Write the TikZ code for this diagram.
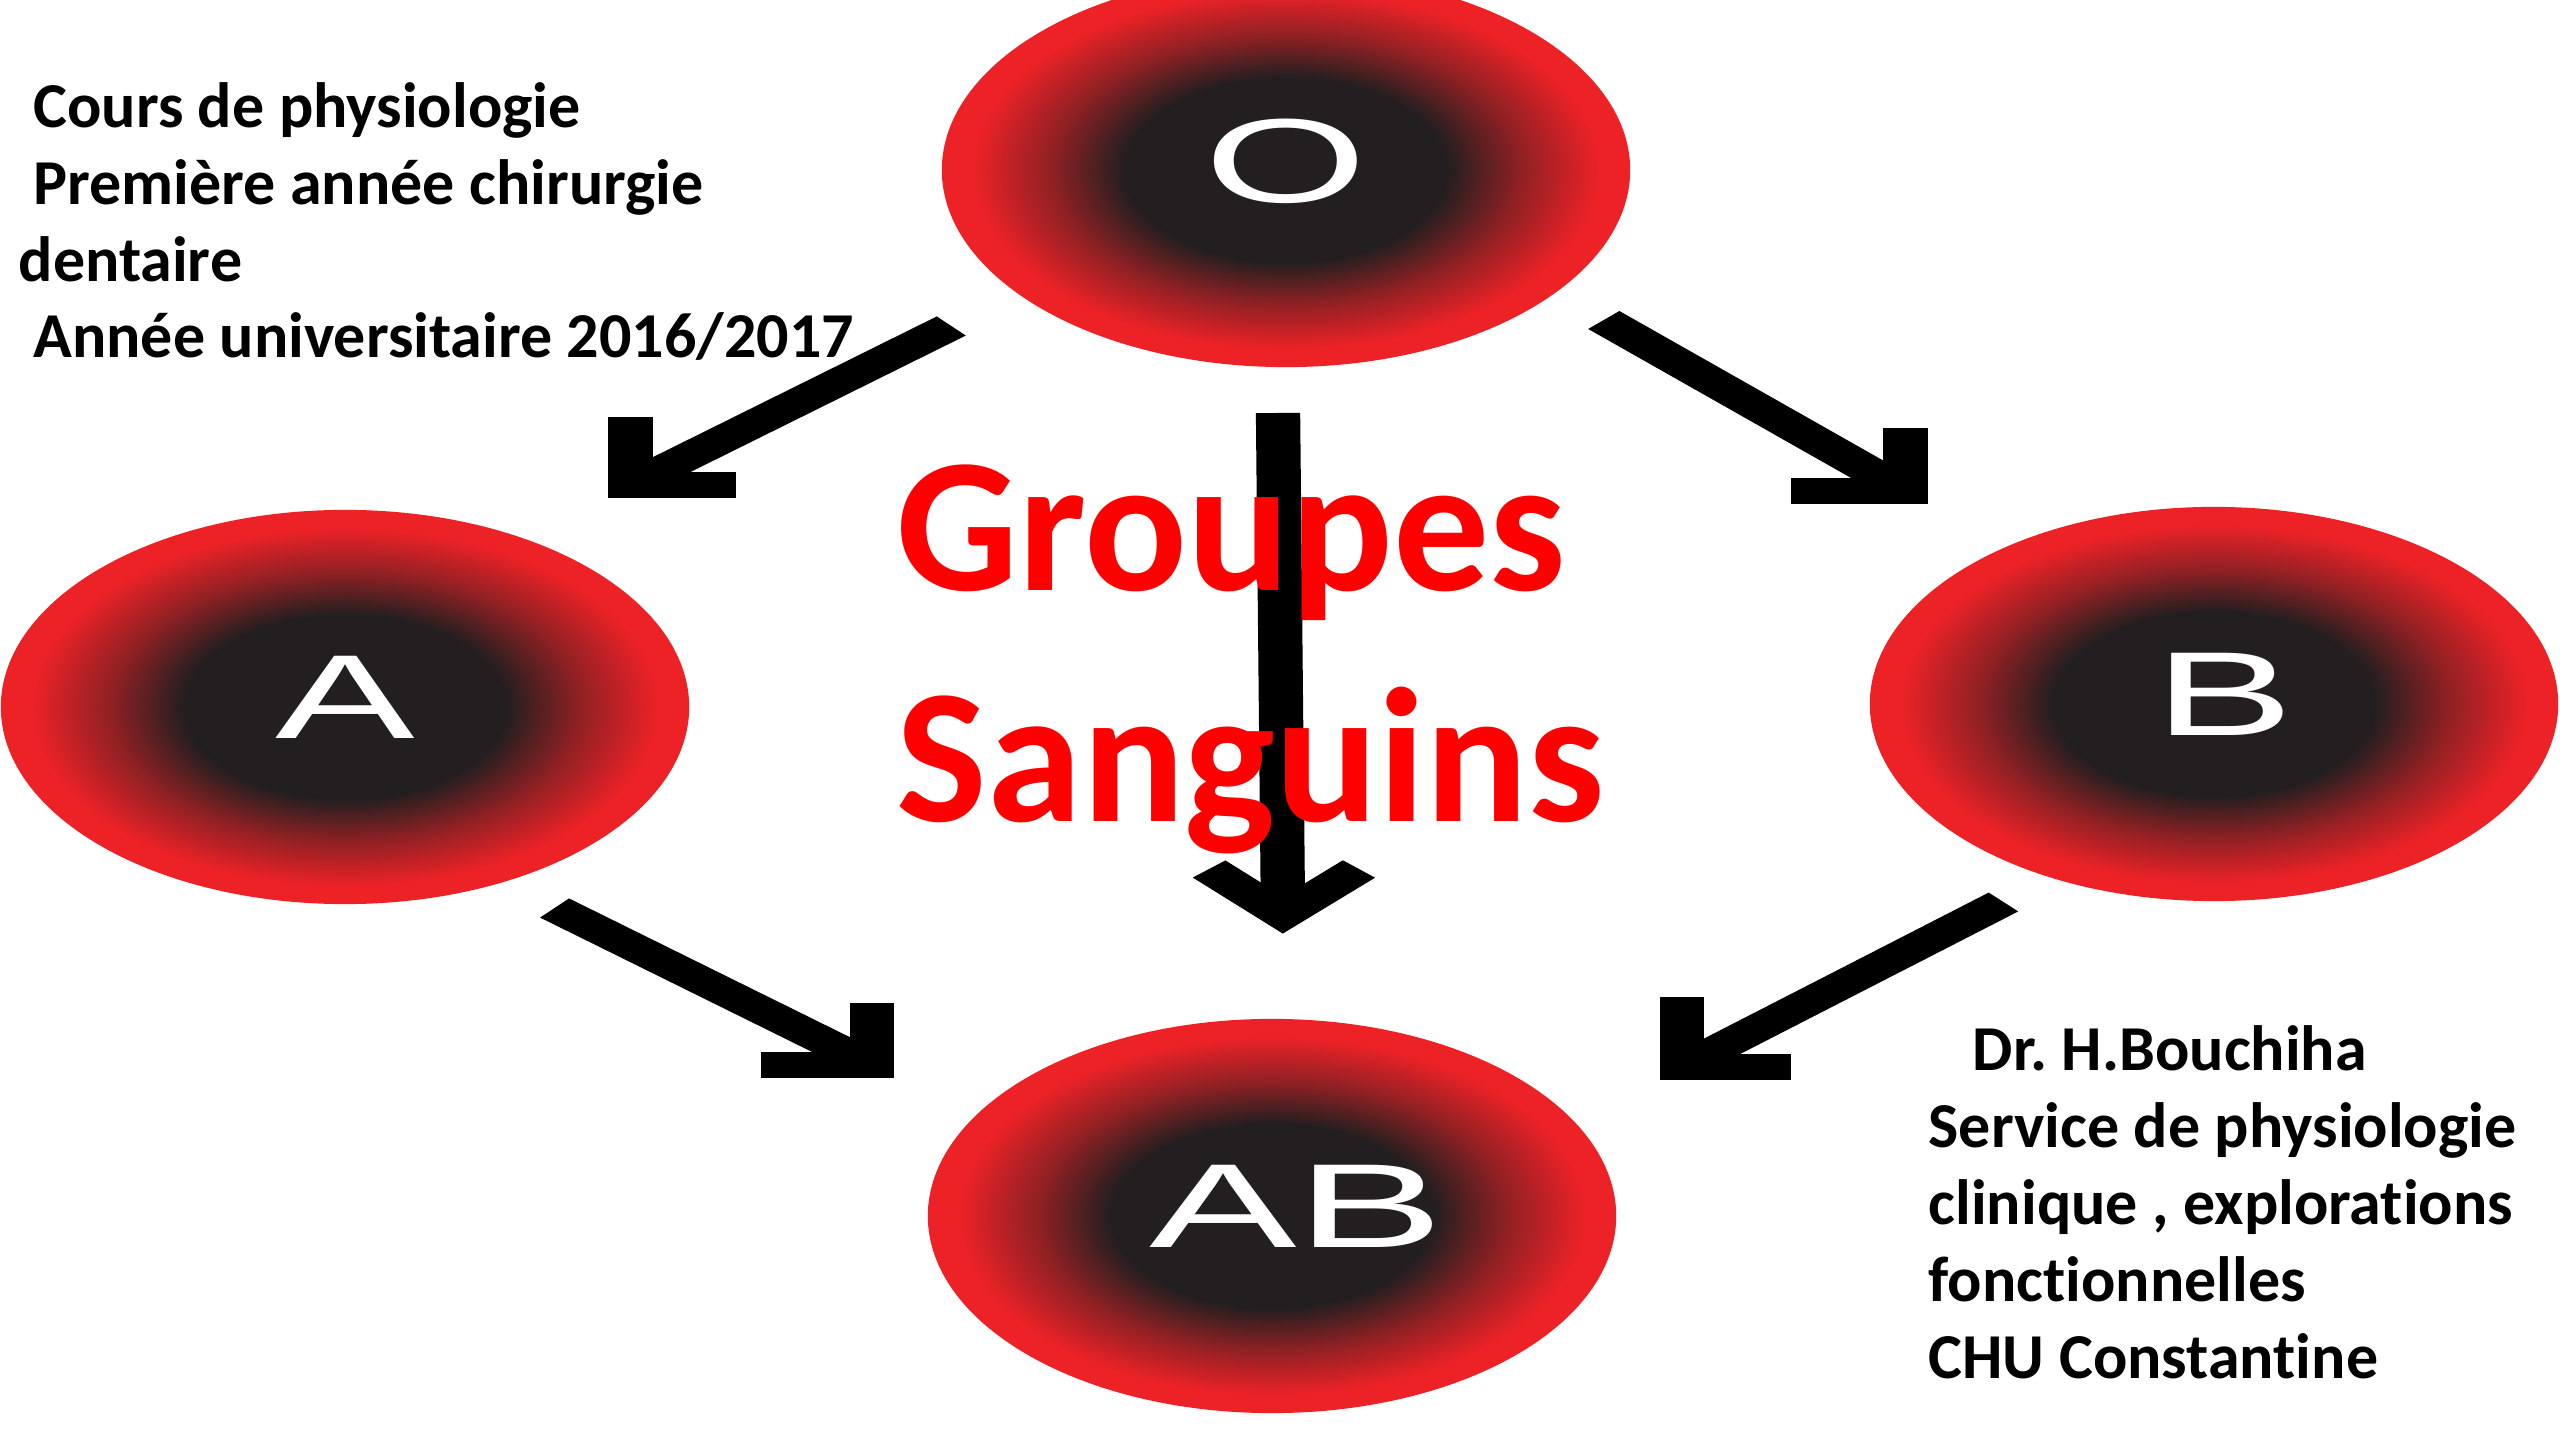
\documentclass[tikz,border=0pt]{standalone}
\usepackage{graphicx}
\usepackage{fontspec}
\setmainfont{Carlito}[Ligatures=NoCommon]
\newfontfamily\letterfont{Liberation Sans}
\usetikzlibrary{shapes.geometric}

\definecolor{cellred}{RGB}{237,34,39}
\definecolor{celldark}{RGB}{35,31,32}
\colorlet{cellmid}{celldark!45!cellred}
\definecolor{titlered}{RGB}{255,0,0}

% dark core fading out to a red rim
\pgfdeclareradialshading{cellshade}{\pgfpoint{0bp}{0bp}}{%
  color(0bp)=(celldark); color(11.7bp)=(celldark); color(17.2bp)=(cellmid);
  color(22.8bp)=(cellred); color(50bp)=(cellred)}

\tikzset{
  bloodcell/.style={ellipse, minimum width=6.88cm, minimum height=3.94cm,
    inner sep=0pt, outer sep=0pt, shading=cellshade, text=white,
    text depth=5.5pt, font=\letterfont\fontsize{34}{40}\selectfont},
  arrowline/.style={line width=7.2pt, line cap=butt},
  arrowhead/.style={line width=7.2pt, line cap=butt, line join=miter},
  info/.style={font=\bfseries\fontsize{18.2}{22}\selectfont, anchor=base west,
    inner sep=0pt},
  titletext/.style={font=\bfseries\fontsize{54.5}{60}\selectfont,
    text=titlered, anchor=base west, inner sep=0pt},
}

\begin{document}
\frenchspacing
\begin{tikzpicture}[x=0.01cm, y=-0.01cm]
\useasboundingbox (0,0) rectangle (2560,1440);
\fill[white] (0,0) rectangle (2560,1440);

% the four blood groups
\begin{scope}
  \clip (0,0) rectangle (2560,1440);
  \node[bloodcell] (O)  at (1286,170)  {\scalebox{1.75}[1]{O}};
  \node[bloodcell] (A)  at (345,707)   {\scalebox{1.75}[1]{A}};
  \node[bloodcell] (B)  at (2214,704)  {\hspace*{6pt}\scalebox{1.75}[1]{B}};
  \node[bloodcell] (AB) at (1272,1216) {\hspace*{14pt}\scalebox{1.85}[1]{AB}};
\end{scope}

% arrows, drawn in a frame widened horizontally like the cells
\begin{scope}[transform canvas={xscale=1.75}, x=0.0057143cm]
  % O -> A
  \coordinate (OA-tail) at (952,326);
  \coordinate (OA-tip)  at (631,485);
  \coordinate (OA-up)   at (631,417);
  \coordinate (OA-side) at (737,485);
  % O -> B
  \coordinate (OB-tail) at (1605,320);
  \coordinate (OB-tip)  at (1907,491);
  \coordinate (OB-up)   at (1907,428);
  \coordinate (OB-side) at (1792,491);
  % O -> AB
  \coordinate (OAB-tail)  at (1279,413);
  \coordinate (OAB-tip)   at (1284,915);
  \coordinate (OAB-left)  at (1210,869);
  \coordinate (OAB-right) at (1360,869);
  % A -> AB
  \coordinate (AAB-tail) at (555,908);
  \coordinate (AAB-tip)  at (873,1065);
  \coordinate (AAB-up)   at (873,1003);
  \coordinate (AAB-side) at (762,1065);
  % B -> AB
  \coordinate (BAB-tail) at (2005,902);
  \coordinate (BAB-tip)  at (1683,1067);
  \coordinate (BAB-up)   at (1683,997);
  \coordinate (BAB-side) at (1792,1067);

  \draw[arrowline] (OA-tail) -- (OA-tip);
  \draw[arrowhead] (OA-up) -- (OA-tip) -- (OA-side);
  \draw[arrowline] (OB-tail) -- (OB-tip);
  \draw[arrowhead] (OB-up) -- (OB-tip) -- (OB-side);
  \draw[arrowline] (OAB-tail) -- (OAB-tip);
  \draw[arrowhead] (OAB-left) -- (OAB-tip) -- (OAB-right);
  \draw[arrowline] (AAB-tail) -- (AAB-tip);
  \draw[arrowhead] (AAB-up) -- (AAB-tip) -- (AAB-side);
  \draw[arrowline] (BAB-tail) -- (BAB-tip);
  \draw[arrowhead] (BAB-up) -- (BAB-tip) -- (BAB-side);
\end{scope}

% course details
\node[info] (course1) at (18,128) {\hspace*{.23em}Cours de physiologie};
\node[info] (course2) at (18,205) {\hspace*{.23em}Première année chirurgie};
\node[info] (course3) at (18,282) {dentaire};
\node[info] (course4) at (18,358) {\hspace*{.23em}Année universitaire 2016/2017};

% author
\node[info] (author1) at (1928,1070) {\hspace*{.69em}Dr. H.Bouchiha};
\node[info] (author2) at (1928,1147) {Service de physiologie};
\node[info] (author3) at (1928,1224) {clinique , explorations};
\node[info] (author4) at (1928,1301) {fonctionnelles};
\node[info] (author5) at (1928,1378) {CHU Constantine};

% title
\node[titletext] (title1) at (896,591) {Groupes};
\node[titletext] (title2) at (896,821) {Sanguins};
\end{tikzpicture}
\end{document}
